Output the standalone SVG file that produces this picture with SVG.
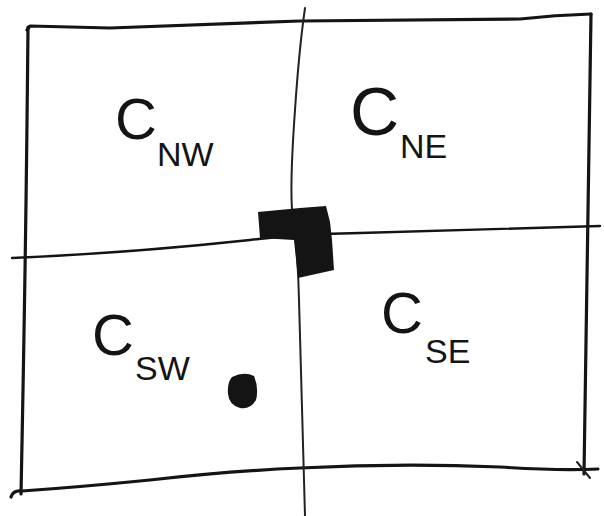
<svg xmlns="http://www.w3.org/2000/svg" width="604" height="516" viewBox="0 0 604 516">
<style>
.ln{fill:none;stroke:#141414;stroke-width:3.2;stroke-linecap:round;stroke-linejoin:round}
.thin{fill:none;stroke:#222;stroke-width:2;stroke-linecap:round}
.ink{fill:#141414}
.big{font-family:"Liberation Sans","DejaVu Sans",sans-serif;fill:#141414;font-size:58px}
.sub{font-family:"Liberation Sans","DejaVu Sans",sans-serif;fill:#141414;font-size:34px}
</style>
<rect width="604" height="516" fill="#fff"/>
<g id="frame">
<path class="ln" d="M27,30 L30,26 Q70,27 110,28 Q200,25 300,21 Q420,20 520,19 Q555,15 591,14"/>
<path class="ln" d="M28,27 Q26,250 21,494"/>
<path class="ln" d="M591,14 Q588,250 584,474"/>
<path class="ln" d="M11,497 Q13,490 22,491 Q80,487 150,480 Q230,471 300,468 Q400,463 500,467 Q560,471 598,469"/>
<path class="thin" d="M577,462 L590,478"/>
</g>
<g id="dividers">
<path class="thin" d="M305,8 Q299,50 295,110 Q290,180 292,210 Q298,250 299,300 Q302,400 305,516"/>
<path class="ln" d="M12,258 Q130,253 250,240 Q300,234 360,233 Q480,229 600,226" style="stroke-width:2.4"/>
</g>
<g id="block">
<path class="ink" d="M258,212 L300,208 L326,206 L330,222 L332,240 L334,270 L298,278 L294,240 L260,238 Z"/>
</g>
<g id="dot">
<path class="ink" d="M232,377 Q244,371 254,376 Q259,388 256,400 Q250,410 240,408 Q229,405 228,394 Q227,383 232,377 Z"/>
</g>
<g id="label-nw">
<text class="big" x="115" y="139">C</text>
<text class="sub" x="157" y="166">NW</text>
</g>
<g id="label-ne">
<text class="big" x="350" y="135" style="font-size:68px">C</text>
<text class="sub" x="400" y="158">NE</text>
</g>
<g id="label-sw">
<text class="big" x="92" y="355">C</text>
<text class="sub" x="135" y="380">SW</text>
</g>
<g id="label-se">
<text class="big" x="381" y="333">C</text>
<text class="sub" x="425" y="363">SE</text>
</g>
</svg>
